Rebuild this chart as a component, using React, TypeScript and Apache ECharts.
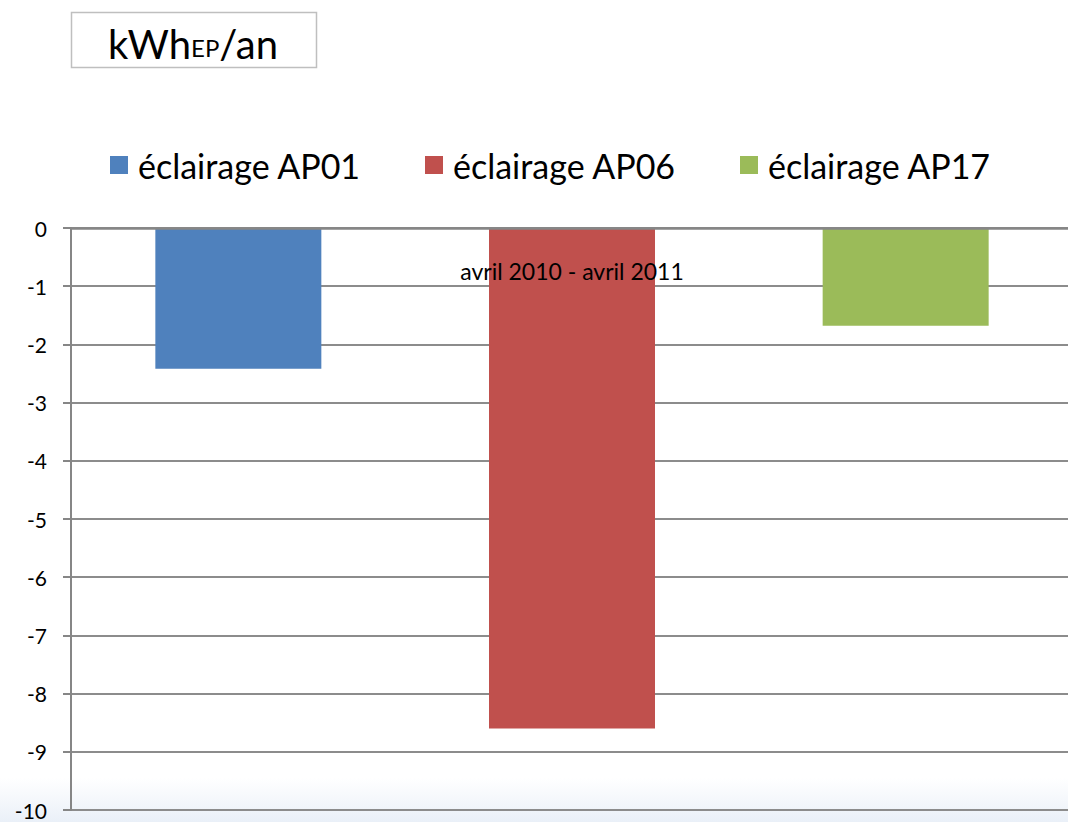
import React, { useEffect, useRef } from "react";
import * as echarts from "echarts";

const categories = ["avril 2010 - avril 2011"];
const seriesNames = ["éclairage AP01", "éclairage AP06", "éclairage AP17"];
const seriesValues = [[-2.42], [-8.6], [-1.68]];
const seriesColors = ["#4f81bd", "#c0504d", "#9bbb59"];
const yTicks = { min: -10, max: 0, interval: 1 };
const unitLabel = { main: "kWh", sub: "EP", tail: "/an" };

const FONT = "Lato, 'Open Sans', sans-serif";

export default function App() {
  const ref = useRef<HTMLDivElement>(null);
  useEffect(() => {
    if (!ref.current) return;
    const chart = echarts.init(ref.current, undefined, { renderer: "svg" });
    const legendLefts = [105, 420, 735];
    chart.setOption({
      animation: false,
      backgroundColor: "#ffffff",
      textStyle: { fontFamily: FONT },
      graphic: [
        {
          type: "rect",
          left: 0,
          top: 778,
          shape: { width: 1068, height: 44 },
          style: {
            fill: new echarts.graphic.LinearGradient(0, 0, 0, 1, [
              { offset: 0, color: "#ffffff" },
              { offset: 1, color: "#eaf0f8" },
            ]),
          },
          z: -10,
        },
        {
          type: "rect",
          shape: { x: 71.5, y: 12.5, width: 245, height: 55 },
          style: { fill: "#ffffff", stroke: "#bfbfbf", lineWidth: 1.5 },
        },
        {
          type: "text",
          x: 193,
          y: 40,
          style: {
            text: `{m|${unitLabel.main}}{s|${unitLabel.sub}}{m|${unitLabel.tail}}`,
            align: "center",
            verticalAlign: "middle",
            rich: {
              m: { fontSize: 40, fontFamily: FONT, fill: "#000", verticalAlign: "bottom", lineHeight: 48 },
              s: { fontSize: 24, fontFamily: FONT, fill: "#000", verticalAlign: "bottom", lineHeight: 48, padding: [0, 0, 5, 0] },
            },
          },
        },
      ],
      legend: seriesNames.map((n, i) => ({
        data: [n],
        left: legendLefts[i],
        top: 143,
        itemWidth: 18,
        itemHeight: 18,
        icon: "rect",
        textStyle: { fontSize: 34, color: "#000", fontFamily: FONT, padding: [0, 0, 0, 5] },
      })),
      grid: { left: 71, right: -5, top: 228, bottom: 12, containLabel: false, outerBoundsMode: "none" },
      xAxis: {
        type: "category",
        data: categories,
        position: "top",
        z: 10,
        axisLine: { show: true, onZero: false, lineStyle: { color: "#868686", width: 2.5 } },
        axisTick: { show: false },
        axisLabel: { inside: true, color: "#000", fontSize: 23, margin: 31, fontFamily: FONT },
      },
      yAxis: {
        type: "value",
        min: yTicks.min,
        max: yTicks.max,
        interval: yTicks.interval,
        axisLine: { show: true, lineStyle: { color: "#868686", width: 2 } },
        axisTick: { show: true, length: 8, lineStyle: { color: "#868686", width: 2 } },
        axisLabel: { color: "#000", fontSize: 21, margin: 24, fontFamily: FONT },
        splitLine: { show: true, lineStyle: { color: "#8c8c8c", width: 2 } },
      },
      series: seriesNames.map((n, i) => ({
        name: n,
        type: "bar",
        data: seriesValues[i],
        barWidth: 166,
        barGap: "101%",
        itemStyle: { color: seriesColors[i] },
      })),
    });
    return () => chart.dispose();
  }, []);
  return <div ref={ref} style={{ position: "fixed", left: 0, top: 0, width: 1068, height: 822 }} />;
}
